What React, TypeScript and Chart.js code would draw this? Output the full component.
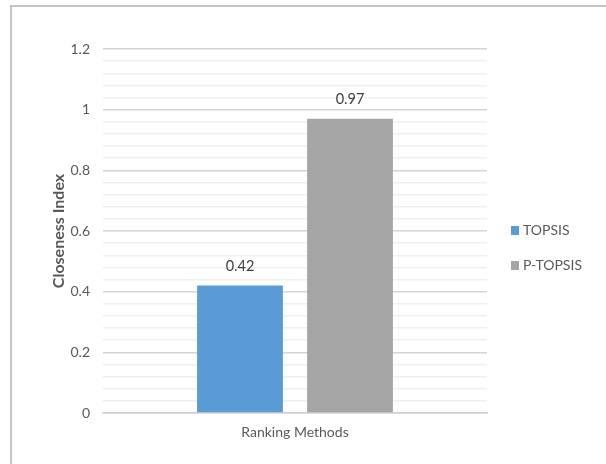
import React, { useEffect, useRef } from "react";
import { Chart, registerables } from "chart.js";

Chart.register(...registerables);

const categories = ["Ranking Methods"];
const seriesNames = ["TOPSIS", "P-TOPSIS"];
const topsisValues = [0.42];
const pTopsisValues = [0.97];
const seriesColors = ["#5B9BD5", "#A5A5A5"];
const yMajorTicks = [0, 0.2, 0.4, 0.6, 0.8, 1, 1.2];

const FONT = "Lato, 'Open Sans', sans-serif";
const TEXT = "#595959";

const isMajor = (v: number) => yMajorTicks.some((t) => Math.abs(t - v) < 1e-6);

// Value labels above each bar
const valueLabels = {
  id: "valueLabels",
  afterDatasetsDraw(chart: any) {
    const ctx = chart.ctx;
    ctx.save();
    ctx.font = `14.5px ${FONT}`;
    ctx.fillStyle = "#404040";
    ctx.textAlign = "center";
    ctx.textBaseline = "middle";
    chart.data.datasets.forEach((ds: any, i: number) => {
      const meta = chart.getDatasetMeta(i);
      meta.data.forEach((bar: any, j: number) => {
        ctx.fillText(String(ds.data[j]), bar.x, bar.y - 19);
      });
    });
    ctx.restore();
  },
};

// Legend at the right of the plot, square swatches
const sideLegend = {
  id: "sideLegend",
  afterDraw(chart: any) {
    const ctx = chart.ctx;
    const area = chart.chartArea;
    const x = area.right + 24;
    const yStart = 230.5;
    const gap = 35;
    ctx.save();
    ctx.font = `14px ${FONT}`;
    ctx.textBaseline = "middle";
    ctx.textAlign = "left";
    chart.data.datasets.forEach((ds: any, i: number) => {
      const y = yStart + i * gap;
      ctx.fillStyle = ds.backgroundColor;
      ctx.fillRect(x, y - 4.5, 8, 9);
      ctx.fillStyle = TEXT;
      ctx.fillText(ds.label, x + 12, y);
    });
    ctx.restore();
  },
};

export default function App() {
  const canvasRef = useRef<HTMLCanvasElement | null>(null);

  useEffect(() => {
    if (!canvasRef.current) return;
    const chart = new Chart(canvasRef.current, {
      type: "bar",
      data: {
        labels: categories,
        datasets: [
          { label: seriesNames[0], data: topsisValues, backgroundColor: seriesColors[0] },
          { label: seriesNames[1], data: pTopsisValues, backgroundColor: seriesColors[1] },
        ],
      },
      options: {
        animation: false,
        responsive: true,
        maintainAspectRatio: false,
        layout: { padding: { top: 49, right: 119, bottom: 0, left: 0 } },
        datasets: {
          bar: { categoryPercentage: 0.573, barPercentage: 0.78 },
        },
        plugins: {
          legend: { display: false },
          tooltip: { enabled: false },
        },
        scales: {
          x: {
            grid: { display: false, drawTicks: false },
            border: { display: true, color: "#d0d0d0", width: 1.5 },
            ticks: { color: TEXT, font: { family: FONT, size: 14 }, padding: 11 },
            afterFit(scale: any) {
              scale.height = 51;
            },
          },
          y: {
            min: 0,
            max: 1.2,
            border: { display: false },
            grid: {
              drawTicks: false,
              color: (c: any) => (isMajor(c.tick.value) ? "#d4d4d4" : "#efefef"),
              lineWidth: 1.5,
            },
            ticks: {
              stepSize: 0.04,
              autoSkip: false,
              color: TEXT,
              font: { family: FONT, size: 14 },
              padding: 13,
              callback: (v: any) => (isMajor(Number(v)) ? String(Math.round(Number(v) * 10) / 10) : ""),
            },
            title: {
              display: true,
              text: "Closeness Index",
              color: TEXT,
              font: { family: FONT, size: 16, weight: "bold" },
              padding: { top: 49, bottom: 0 },
            },
            afterFit(scale: any) {
              scale.width = 103;
            },
          },
        },
      },
      plugins: [valueLabels, sideLegend],
    });
    return () => chart.destroy();
  }, []);

  return (
    <div style={{ position: "fixed", left: 0, top: 0, width: 606, height: 464, background: "#fff", overflow: "hidden" }}>
      <div
        style={{
          position: "absolute",
          left: 10,
          top: 5,
          width: 620,
          height: 480,
          borderLeft: "2px solid #c4c4c4",
          borderTop: "2px solid #c4c4c4",
        }}
      />
      <canvas ref={canvasRef} style={{ position: "absolute", left: 0, top: 0 }} />
    </div>
  );
}
